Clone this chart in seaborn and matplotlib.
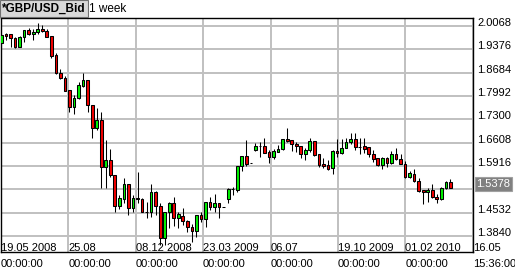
import matplotlib
matplotlib.use("Agg")
import matplotlib.pyplot as plt
import seaborn as sns
import numpy as np
import pandas as pd

# ---- data (weekly GBP/USD bid candles) ----
opens = [1.9555, 1.9822, 1.9822, 1.9703, 1.9454, 1.9751, 1.9949, 1.9822, 1.9881, 1.9979,
         1.9920, 1.9771, 1.9208, 1.8665, 1.8517, 1.8161, 1.7657, 1.7924, 1.8297, 1.8466,
         1.7725, 1.7034, 1.7280, 1.5895, 1.6094, 1.5649, 1.4738, 1.4928, 1.5373, 1.4679,
         1.4958, 1.4928, 1.4565, 1.4542, 1.5153, 1.4738, 1.3789, 1.4542, 1.4809, 1.4364,
         1.4433, 1.4293, 1.4097, 1.3997, 1.4462, 1.4335, 1.4839, 1.4691, 1.4809, 1.4691,
         1.4928, 1.5233, 1.5204, 1.5925, 1.6212, 1.5996, 1.6390, 1.6512, 1.6518, 1.6340,
         1.6191, 1.6340, 1.6420, 1.6716, 1.6687, 1.6568, 1.6509, 1.6263, 1.6390, 1.6657,
         1.6263, 1.5975, 1.5945, 1.5847, 1.6360, 1.6292, 1.6458, 1.6619, 1.6708, 1.6488,
         1.6509, 1.6470, 1.6263, 1.6144, 1.5945, 1.6162, 1.6013, 1.6263, 1.6114, 1.5984,
         1.5598, 1.5669, 1.5471, 1.5204, 1.5136, 1.5204, 1.5005, 1.4928, 1.5272, 1.5432]
highs = [1.9851, 1.9851, 1.9830, 1.9751, 1.9760, 1.9955, 2.0000, 1.9979, 2.0148, 2.0098,
         1.9979, 1.9780, 1.9276, 1.8793, 1.8585, 1.8165, 1.8021, 1.8416, 1.8683, 1.8470,
         1.7730, 1.7645, 1.7508, 1.6687, 1.6420, 1.5655, 1.5056, 1.5551, 1.5382, 1.5056,
         1.5747, 1.4975, 1.4839, 1.5373, 1.5160, 1.4809, 1.4550, 1.4857, 1.5005, 1.4560,
         1.4661, 1.4300, 1.4186, 1.4470, 1.4560, 1.4845, 1.5005, 1.5076, 1.4815, 1.4691,
         1.5272, 1.5302, 1.5930, 1.6218, 1.6687, 1.5996, 1.6589, 1.6619, 1.6737, 1.6390,
         1.6420, 1.6538, 1.6722, 1.7034, 1.6692, 1.6619, 1.6515, 1.6441, 1.6737, 1.6665,
         1.6268, 1.6144, 1.6094, 1.6390, 1.6716, 1.6716, 1.6737, 1.6886, 1.6886, 1.6737,
         1.6737, 1.6488, 1.6390, 1.6150, 1.6191, 1.6191, 1.6360, 1.6458, 1.6263, 1.6073,
         1.5767, 1.5827, 1.5551, 1.5210, 1.5254, 1.5373, 1.5076, 1.5280, 1.5480, 1.5530]
lows = [1.9454, 1.9653, 1.9454, 1.9407, 1.9445, 1.9602, 1.9815, 1.9653, 1.9822, 1.9899,
        1.9745, 1.9128, 1.8635, 1.8510, 1.8140, 1.7526, 1.7449, 1.7915, 1.8268, 1.7526,
        1.6755, 1.6983, 1.5254, 1.5272, 1.5598, 1.4560, 1.4640, 1.4809, 1.4462, 1.4560,
        1.4809, 1.4555, 1.4364, 1.4412, 1.4462, 1.3572, 1.3572, 1.4068, 1.4145, 1.4086,
        1.4166, 1.3967, 1.3670, 1.3819, 1.4264, 1.4115, 1.4611, 1.4560, 1.4382, 1.4691,
        1.4809, 1.5055, 1.5136, 1.5776, 1.5916, 1.5996, 1.6360, 1.6191, 1.6292, 1.5996,
        1.6123, 1.6322, 1.6390, 1.6636, 1.6360, 1.6340, 1.6144, 1.6094, 1.6340, 1.6221,
        1.5895, 1.5865, 1.5797, 1.5678, 1.6191, 1.6263, 1.6441, 1.6559, 1.6400, 1.6263,
        1.6292, 1.6191, 1.6043, 1.5925, 1.5827, 1.5877, 1.5984, 1.6085, 1.5966, 1.5551,
        1.5551, 1.5450, 1.5153, 1.4780, 1.4857, 1.4975, 1.4809, 1.4898, 1.5233, 1.5254]
closes = [1.9801, 1.9780, 1.9703, 1.9454, 1.9751, 1.9949, 1.9822, 1.9881, 1.9970, 1.9920,
          1.9751, 1.9178, 1.8665, 1.8517, 1.8149, 1.7657, 1.7941, 1.8318, 1.8466, 1.7725,
          1.7034, 1.7280, 1.5895, 1.6094, 1.5649, 1.4738, 1.4958, 1.5373, 1.4679, 1.4958,
          1.4950, 1.4560, 1.4555, 1.5153, 1.4738, 1.3789, 1.4542, 1.4809, 1.4364, 1.4492,
          1.4293, 1.4097, 1.3997, 1.4462, 1.4335, 1.4839, 1.4691, 1.4827, 1.4691, 1.4691,
          1.5233, 1.5228, 1.5925, 1.6212, 1.5975, 1.5996, 1.6509, 1.6520, 1.6310, 1.6191,
          1.6360, 1.6420, 1.6716, 1.6657, 1.6559, 1.6509, 1.6263, 1.6390, 1.6657, 1.6242,
          1.5945, 1.5925, 1.5827, 1.6360, 1.6292, 1.6458, 1.6636, 1.6708, 1.6488, 1.6482,
          1.6429, 1.6263, 1.6123, 1.5945, 1.6162, 1.6013, 1.6263, 1.6114, 1.5984, 1.5598,
          1.5699, 1.5471, 1.5183, 1.5153, 1.5204, 1.4987, 1.4928, 1.5272, 1.5450, 1.5272]

date_labels = ["19.05 2008", "25.08", "08.12 2008", "23.03 2009", "06.07",
               "19.10 2009", "01.02 2010", "16.05"]
time_labels = ["00:00:00"] * 7 + ["15:36:00"]
y_ticks = [2.0068, 1.9376, 1.8684, 1.7992, 1.7300, 1.6608, 1.5916, 1.5224, 1.4532, 1.3840]
y_tick_labels = ["2.0068", "1.9376", "1.8684", "1.7992", "1.7300", "1.6608", "1.5916",
                 "", "1.4532", "1.3840"]
last_price = 1.5378
instrument = "*GBP/USD_Bid"
period = "1 week"

# ---- layout constants ----
GRID_STEP = 14.862      # time-grid spacing, in bar widths
GRID_START = -0.12
X_LEFT, X_RIGHT = -0.1, 103.98

# ---- style ----
sns.set_theme(style="white")
plt.rcParams['font.family'] = ['Liberation Sans', 'DejaVu Sans']

UP = "#00f000"
DOWN = "#f00000"
GRID = "#c0c0c0"

W, H = 515, 270
fig = plt.figure(figsize=(W / 100, H / 100), dpi=100)
fig.patch.set_facecolor("white")
ax = fig.add_axes([1 / W, (H - 252.3) / H, 472 / W, 234 / H])
ax.set_facecolor("white")

df = pd.DataFrame({"open": opens, "high": highs, "low": lows, "close": closes})
df["bar"] = np.arange(len(df))
df["up"] = df["close"] >= df["open"]
df["bottom"] = df[["open", "close"]].min(axis=1)
df["height"] = (df["close"] - df["open"]).abs()

ax.vlines(df["bar"], df["low"], df["high"], color="black", lw=0.75, zorder=3)
ax.bar(df["bar"], df["height"], bottom=df["bottom"], width=0.6,
       color=np.where(df["up"], UP, DOWN), edgecolor="black", linewidth=0.75, zorder=4)

ax.set_xlim(X_LEFT, X_RIGHT)
ax.set_ylim(1.3357, 2.0296)

# grid & spines
ax.grid(True, which="major", color=GRID, lw=1.4, zorder=0)
ax.set_axisbelow(True)
for s in ax.spines.values():
    s.set_color("black")
    s.set_linewidth(1.0)
    s.set_visible(True)

# y axis on the right
ax.yaxis.tick_right()
ax.set_yticks(y_ticks)
ax.set_yticklabels(y_tick_labels)
ax.tick_params(axis="y", length=0, pad=3.0, labelsize=8, colors="black")
for lbl in ax.get_yticklabels():
    lbl.set_va("baseline")

# x axis: dates inside, times below
grid_pos = [GRID_START + k * GRID_STEP for k in range(len(date_labels))]
grid_pos[0] = X_LEFT
ax.xaxis.remove_overlapping_locs = False
ax.set_xticks(grid_pos)
ax.set_xticklabels(date_labels)
ax.set_xticks(grid_pos, minor=True)
ax.set_xticklabels(time_labels, minor=True)
ax.tick_params(axis="x", which="major", length=0, pad=-6.8, labelsize=8, colors="black")
ax.tick_params(axis="x", which="minor", length=0, pad=5.0, labelsize=8, colors="black")
for lbl in ax.get_xticklabels():
    lbl.set_ha("left")
for lbl in ax.get_xticklabels(minor=True):
    lbl.set_ha("left")
ax.grid(False, which="minor")

# current price marker
ax.text(1 + 3.5 / 472, last_price, f"{last_price:.4f}", transform=ax.get_yaxis_transform(),
        ha="left", va="center", fontsize=8, color="white", clip_on=False, zorder=10,
        bbox=dict(boxstyle="square,pad=0.15", fc="#808080", ec="#a0a0a0", lw=0.8))

# header
fig.text(2 / W, 1 - 8.5 / H, instrument, ha="left", va="center", fontsize=8.5,
         fontweight="bold", color="black",
         bbox=dict(boxstyle="square,pad=0.18", fc="#d8d8d8", ec="#707070", lw=0.8))
fig.text(89 / W, 1 - 8.5 / H, period, ha="left", va="center", fontsize=8.5, color="black")

fig.savefig("out.png", dpi=100)
